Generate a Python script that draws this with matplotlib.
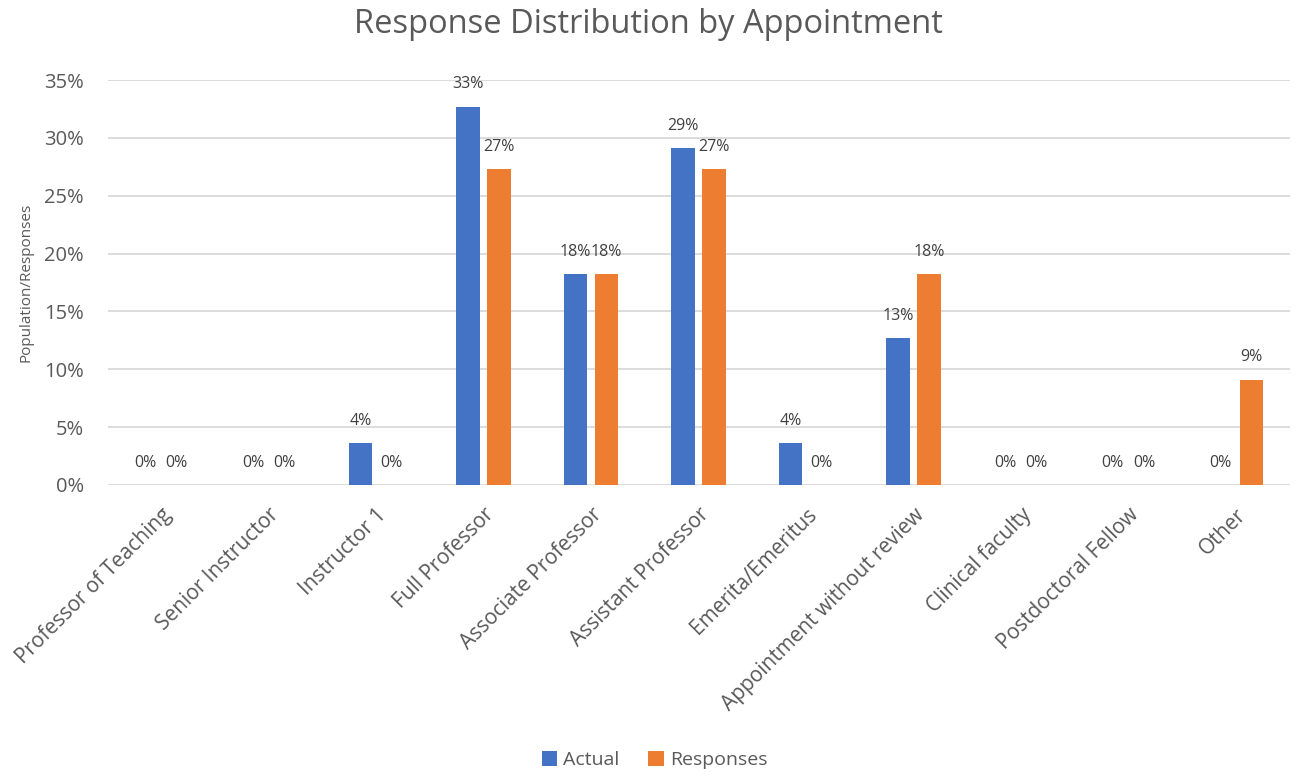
import matplotlib
matplotlib.use("Agg")
import matplotlib.pyplot as plt
import numpy as np

categories = [
    "Professor of Teaching", "Senior Instructor", "Instructor 1", "Full Professor",
    "Associate Professor", "Assistant Professor", "Emerita/Emeritus",
    "Appointment without review", "Clinical faculty", "Postdoctoral Fellow", "Other",
]
actual = [0, 0, 3.6, 32.7, 18.2, 29.1, 3.6, 12.7, 0, 0, 0]
responses = [0, 0, 0, 27.3, 18.2, 27.3, 0, 18.2, 0, 0, 9.1]

plt.rcParams['font.family'] = ['Open Sans', 'DejaVu Sans']
txt = '#595959'

fig = plt.figure(figsize=(12.96, 7.77), dpi=100)
ax = fig.add_axes([0.083, 0.376, 0.912, 0.521])

x = np.arange(len(categories))
off = 0.145
w = 0.22
b1 = ax.bar(x - off, actual, w, color='#4472c4', label='Actual', zorder=3)
b2 = ax.bar(x + off, responses, w, color='#ed7d31', label='Responses', zorder=3)

for bars, vals in ((b1, actual), (b2, responses)):
    for r, v in zip(bars, vals):
        ax.annotate(f"{v:.0f}%", (r.get_x() + r.get_width() / 2, v),
                    xytext=(0, 16), textcoords='offset points',
                    ha='center', va='center', fontsize=11.5, color='#404040')

ax.set_xlim(-0.5, len(categories) - 0.5)
ax.set_ylim(0, 35)
ax.set_yticks(np.arange(0, 36, 5))
ax.set_yticklabels([f"{t}%" for t in range(0, 36, 5)], fontsize=14.5, color=txt)
ax.set_xticks(x)
ax.set_xticklabels(categories, rotation=45, ha='right', rotation_mode='anchor',
                   fontsize=15, color=txt)
ax.tick_params(axis='y', length=0, pad=17)
ax.tick_params(axis='x', length=0, pad=14)
ax.grid(axis='y', color='#d9d9d9', lw=1.3, zorder=0)
for s in ax.spines.values():
    s.set_visible(False)
ax.set_ylabel("Population/Responses", fontsize=11, color=txt, labelpad=8)

fig.text(0.5, 0.968, "Response Distribution by Appointment", fontsize=23.5,
         color=txt, ha='center', va='center')
fig.legend(handles=[b1, b2], loc='center', bbox_to_anchor=(0.505, 0.022), ncol=2,
           frameon=False, fontsize=14, labelcolor=txt, handlelength=0.8,
           handleheight=0.8, handletextpad=0.3, columnspacing=1.5)

fig.savefig("out.png", dpi=100)
